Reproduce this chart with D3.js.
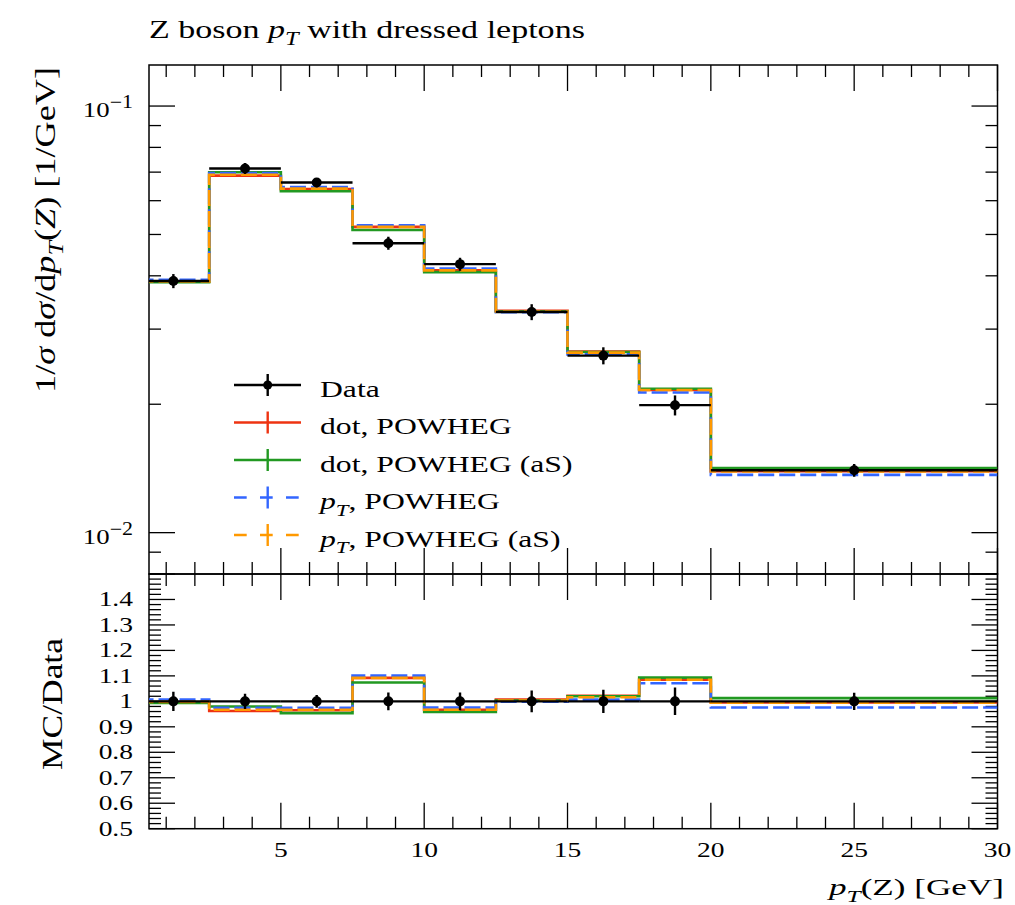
<!DOCTYPE html>
<html>
<head>
<meta charset="utf-8">
<script src="https://cdn.jsdelivr.net/npm/d3@7"></script>
<style>
  html, body { margin: 0; padding: 0; background: #fff; }
  svg { display: block; }
</style>
</head>
<body>
<svg id="chart" width="1015" height="905"></svg>
<script>
// ---------------- data ----------------
const binEdges = [0, 2.5, 5, 7.5, 10, 12.5, 15, 17.5, 20, 30];
const dataValues = [0.0389, 0.0714, 0.0662, 0.0477, 0.0426, 0.0329, 0.0260, 0.0199, 0.0140];
const dataRelErr = [0.038, 0.030, 0.025, 0.035, 0.035, 0.043, 0.046, 0.054, 0.034];
const dotPowheg     = [0.03874, 0.06869, 0.06388, 0.05209, 0.04119, 0.03313, 0.02657, 0.02159, 0.01394];
const dotPowhegAS   = [0.03867, 0.06997, 0.06315, 0.05123, 0.04081, 0.03300, 0.02652, 0.02175, 0.01418];
const ptPowheg      = [0.03917, 0.06962, 0.06455, 0.05252, 0.04158, 0.03287, 0.02618, 0.02131, 0.01366];
const ptPowhegAS    = [0.03882, 0.06904, 0.06402, 0.05209, 0.04119, 0.03300, 0.02642, 0.02159, 0.01392];
const xTickLabels = [5, 10, 15, 20, 25, 30];
const ratioTickLabels = [0.5, 0.6, 0.7, 0.8, 0.9, 1.0, 1.1, 1.2, 1.3, 1.4];
const yTopMajorTicks = [0.01, 0.1];
const yTopMajorLabels = ["−2", "−1"];

const series = [
  { name: "dot, POWHEG",      values: dotPowheg,   color: "#ee3311", dash: null,  legend: [{t:"dot, POWHEG"}] },
  { name: "dot, POWHEG (aS)", values: dotPowhegAS, color: "#229922", dash: null,  legend: [{t:"dot, POWHEG (aS)"}] },
  { name: "pT, POWHEG",       values: ptPowheg,    color: "#3366ff", dash: "16,5", legend: [{t:"p", i:1},{t:"T", i:1, sub:1},{t:", POWHEG"}] },
  { name: "pT, POWHEG (aS)",  values: ptPowhegAS,  color: "#ff9900", dash: "16,5", legend: [{t:"p", i:1},{t:"T", i:1, sub:1},{t:", POWHEG (aS)"}] }
];

// ---------------- layout ----------------
const FONT = "'Liberation Serif', 'DejaVu Serif', serif";
const L = 149, R = 997.5, T1 = 65, B1 = 574, T2 = 574, B2 = 828.7;
const svg = d3.select("#chart");

const x = d3.scaleLinear().domain([0.4, 30]).range([L, R]);
const yTop = d3.scaleLog().domain([0.008, 0.1248]).range([B1, T1]);
const yRat = d3.scaleLinear().domain([0.5, 1.5]).range([B2, T2]);

const defs = svg.append("defs");
defs.append("clipPath").attr("id", "clipTop").append("rect")
  .attr("x", L).attr("y", T1).attr("width", R - L).attr("height", B1 - T1);
defs.append("clipPath").attr("id", "clipRat").append("rect")
  .attr("x", L).attr("y", T2).attr("width", R - L).attr("height", B2 - T2);

// text helper
function label(parent, o) {
  const size = o.size || 24;
  const g = parent.append("g").attr("transform", `translate(${o.x},${o.y}) rotate(${o.rotate || 0})`);
  const inner = g.append("g");
  const t = inner.append("text")
    .attr("font-family", FONT).attr("font-size", size)
    .attr("text-anchor", o.anchor || "start").attr("fill", "#000");
  let shift = 0;
  o.parts.forEach(p => {
    const ts = t.append("tspan").text(p.t);
    if (p.i) ts.attr("font-style", "italic");
    let target = 0, fs = size;
    if (p.sub) { target = size * 0.28; fs = size * 0.72; }
    if (p.sup) { target = -(p.supShift || size * 0.4); fs = p.supSize || size * 0.8; }
    ts.attr("font-size", fs);
    if (target !== shift) { ts.attr("dy", target - shift); shift = target; }
  });
  let sx = o.sx || 1;
  if (o.width) {
    const w = t.node().getComputedTextLength();
    if (w > 0) sx = o.width / w;
  }
  inner.attr("transform", `scale(${sx},1)`);
  return g;
}

// ---------------- frames and ticks ----------------
function ticksX(yEdge, dir) {
  const g = svg.append("g").attr("stroke", "#000").attr("stroke-width", 1.3);
  d3.range(1, 31).forEach(v => {
    const major = v % 5 === 0;
    const len = major ? 26 : 12;
    g.append("line").attr("x1", x(v)).attr("x2", x(v))
      .attr("y1", yEdge).attr("y2", yEdge + dir * len);
  });
}
function ticksY(scale, values, majorFn) {
  const g = svg.append("g").attr("stroke", "#000").attr("stroke-width", 1.3);
  values.forEach(v => {
    const len = majorFn(v) ? 26 : 12;
    const yy = scale(v);
    g.append("line").attr("x1", L).attr("x2", L + len).attr("y1", yy).attr("y2", yy);
    g.append("line").attr("x1", R).attr("x2", R - len).attr("y1", yy).attr("y2", yy);
  });
}

// top panel ticks
ticksX(T1, 1); ticksX(B1, -1);
const topMinor = [];
[0.001, 0.01, 0.1].forEach(d => d3.range(1, 10).forEach(k => {
  const v = +(k * d).toPrecision(3);
  if (v >= 0.008 && v <= 0.1248) topMinor.push(v);
}));
ticksY(yTop, topMinor, v => yTopMajorTicks.some(m => Math.abs(m - v) < 1e-9));

// ratio panel ticks
ticksX(T2, 1); ticksX(B2, -1);
const ratMinor = d3.range(0, 51).map(i => +(0.5 + i * 0.02).toFixed(2));
ticksY(yRat, ratMinor, v => Math.abs(v * 10 - Math.round(v * 10)) < 1e-6);

// frames
svg.append("rect").attr("x", L).attr("y", T1).attr("width", R - L).attr("height", B1 - T1)
  .attr("fill", "none").attr("stroke", "#000").attr("stroke-width", 1.5);
svg.append("rect").attr("x", L).attr("y", T2).attr("width", R - L).attr("height", B2 - T2)
  .attr("fill", "none").attr("stroke", "#000").attr("stroke-width", 1.5);

// ---------------- histograms ----------------
function stepPoints(values, mapY) {
  const pts = values.map((v, i) => [x(binEdges[i]), mapY(v, i)]);
  pts.push([x(binEdges[binEdges.length - 1]), mapY(values[values.length - 1], values.length - 1)]);
  return pts;
}
const stepLine = d3.line().curve(d3.curveStepAfter);

const gTop = svg.append("g").attr("clip-path", "url(#clipTop)");
const gRat = svg.append("g").attr("clip-path", "url(#clipRat)");

series.forEach(s => {
  gTop.append("path").attr("d", stepLine(stepPoints(s.values, v => yTop(v))))
    .attr("fill", "none").attr("stroke", s.color).attr("stroke-width", 2.6)
    .attr("stroke-dasharray", s.dash);
  gRat.append("path").attr("d", stepLine(stepPoints(s.values, (v, i) => yRat(v / dataValues[i]))))
    .attr("fill", "none").attr("stroke", s.color).attr("stroke-width", 2.6)
    .attr("stroke-dasharray", s.dash);
});

// data
dataValues.forEach((v, i) => {
  const xc = x((binEdges[i] + binEdges[i + 1]) / 2);
  const e = dataRelErr[i];
  [[gTop, yTop(v), yTop(v * (1 - e)), yTop(v * (1 + e))],
   [gRat, yRat(1), yRat(1 - e), yRat(1 + e)]].forEach(([g, yc, ylo, yhi]) => {
    g.append("line").attr("x1", x(binEdges[i])).attr("x2", x(binEdges[i + 1]))
      .attr("y1", yc).attr("y2", yc).attr("stroke", "#000").attr("stroke-width", 2.4);
    g.append("line").attr("x1", xc).attr("x2", xc).attr("y1", ylo).attr("y2", yhi)
      .attr("stroke", "#000").attr("stroke-width", 2.4);
    g.append("circle").attr("cx", xc).attr("cy", yc).attr("r", 5).attr("fill", "#000");
  });
});

// ---------------- tick labels ----------------
xTickLabels.forEach(v => {
  label(svg, { x: x(v), y: 857, anchor: "middle", size: 22, sx: 1.25, parts: [{ t: String(v) }] });
});
ratioTickLabels.forEach(v => {
  const s = v === 1 ? "1" : v.toFixed(1);
  label(svg, { x: 133, y: yRat(v) + 7, anchor: "end", size: 22, sx: 1.25, parts: [{ t: s }] });
});
yTopMajorTicks.forEach((v, i) => {
  label(svg, { x: 133, y: yTop(v) + 11, anchor: "end", size: 22, sx: 1.22,
    parts: [{ t: "10" }, { t: yTopMajorLabels[i], sup: 1, supSize: 18, supShift: 9 }] });
});

// ---------------- titles ----------------
label(svg, { x: 149, y: 38, size: 25, width: 436,
  parts: [{ t: "Z boson " }, { t: "p", i: 1 }, { t: "T", i: 1, sub: 1 }, { t: " with dressed leptons" }] });
label(svg, { x: 829, y: 895, size: 24, width: 175,
  parts: [{ t: "p", i: 1 }, { t: "T", i: 1, sub: 1 }, { t: "(Z) [GeV]" }] });
label(svg, { x: 54.5, y: 230, rotate: -90, anchor: "middle", size: 30, width: 326,
  parts: [{ t: "1/" }, { t: "σ", i: 1 }, { t: " d" }, { t: "σ", i: 1 }, { t: "/d" }, { t: "p", i: 1 },
          { t: "T", i: 1, sub: 1 }, { t: "(" }, { t: "Z", i: 1 }, { t: ") [1/GeV]" }] });
label(svg, { x: 61.7, y: 704, rotate: -90, anchor: "middle", size: 30, width: 132,
  parts: [{ t: "MC/Data" }] });

// ---------------- legend ----------------
const legX0 = 234, legX1 = 301, legXc = 267.7, legTextX = 320;
const legendRows = [{ color: "#000", dash: null, data: true, parts: [{ t: "Data" }] }]
  .concat(series.map(s => ({ color: s.color, dash: s.dash ? "12.7,13.3" : null, parts: s.legend })));
const gLeg = svg.append("g");
legendRows.forEach((r, i) => {
  const yc = 385 + i * 37.5;
  gLeg.append("line").attr("x1", legX0).attr("x2", legX1).attr("y1", yc).attr("y2", yc)
    .attr("stroke", r.color).attr("stroke-width", 2.4).attr("stroke-dasharray", r.dash);
  gLeg.append("line").attr("x1", legXc).attr("x2", legXc).attr("y1", yc - 11).attr("y2", yc + 11)
    .attr("stroke", r.color).attr("stroke-width", 2.4);
  if (r.data) gLeg.append("circle").attr("cx", legXc).attr("cy", yc).attr("r", 4.5).attr("fill", "#000");
  label(gLeg, { x: legTextX, y: yc + 11.5, size: 24, sx: 1.32, parts: r.parts });
});
</script>
</body>
</html>
